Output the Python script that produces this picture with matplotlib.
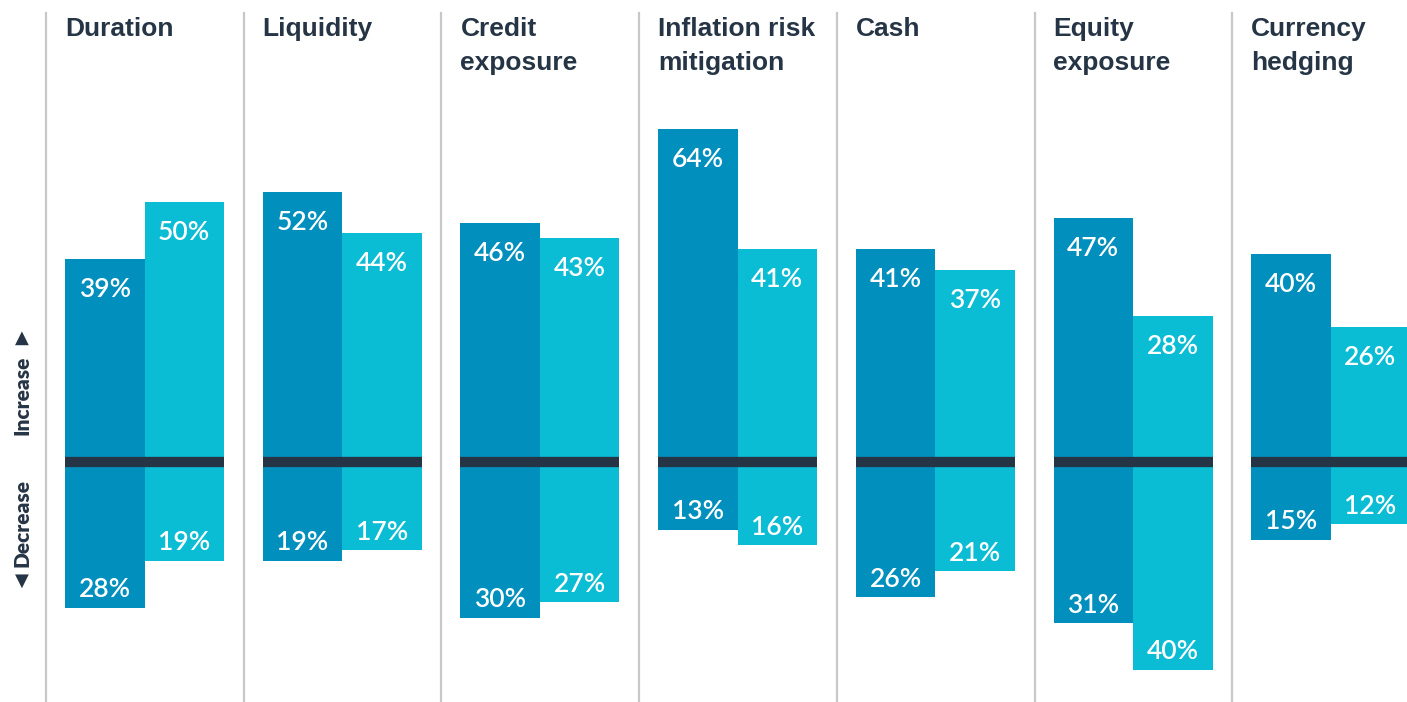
import numpy as np
import matplotlib
matplotlib.use("Agg")
import matplotlib.pyplot as plt
import matplotlib.transforms as mtransforms

# data
categories = ["Duration", "Liquidity", "Credit\nexposure", "Inflation risk\nmitigation",
              "Cash", "Equity\nexposure", "Currency\nhedging"]
increase_a = [39, 52, 46, 64, 41, 47, 40]
increase_b = [50, 44, 43, 41, 37, 28, 26]
decrease_a = [28, 19, 30, 13, 26, 31, 15]
decrease_b = [19, 17, 27, 16, 21, 40, 12]

DARK = "#018fbe"
LIGHT = "#0abcd4"
NAVY = "#263545"
GRID = "#c8c8c8"

plt.rcParams["font.family"] = ["Lato", "DejaVu Sans"]
TITLE_FONT = ["Liberation Sans", "DejaVu Sans"]

W, H = 1407, 702
fig = plt.figure(figsize=(W / 100, H / 100), dpi=100)
ax = fig.add_axes([0, 0, 1, 1])

# pixel geometry of the reference, converted to data units
panel_px = 197.7
sep0_px = 46
zero_px = 462
px_per_pct = 5.2
ax.set_xlim(-sep0_px / panel_px, (W - sep0_px) / panel_px)
ax.set_ylim(-(H - zero_px) / px_per_pct, zero_px / px_per_pct)
ax.axis("off")

n = len(categories)
x = np.arange(n)
left_off = 19 / panel_px
bw = 79.5 / panel_px

ax.bar(x + left_off, increase_a, width=bw, align="edge", color=DARK, zorder=2)
ax.bar(x + left_off + bw, increase_b, width=bw, align="edge", color=LIGHT, zorder=2)
ax.bar(x + left_off, [-v for v in decrease_a], width=bw, align="edge", color=DARK, zorder=2)
ax.bar(x + left_off + bw, [-v for v in decrease_b], width=bw, align="edge", color=LIGHT, zorder=2)

# zero line
ax.hlines(np.zeros(n), x + left_off, x + left_off + 2 * bw, color=NAVY, lw=7.4, zorder=3)

# separators
for i in range(n):
    ax.axvline(i, ymin=0, ymax=1 - 13 / H, color=GRID, lw=1.6, zorder=1)

lab = dict(color="white", fontsize=19, fontweight="semibold", ha="center", va="center", zorder=4)
for i in range(n):
    for off, vi, vd in [(0, increase_a[i], decrease_a[i]), (bw, increase_b[i], decrease_b[i])]:
        cx = i + left_off + off + bw / 2
        ax.annotate(f"{vi}%", (cx, vi), xytext=(0, -22), textcoords="offset points", **lab)
        ax.annotate(f"{vd}%", (cx, -vd), xytext=(0, 13), textcoords="offset points", **lab)

# titles
trans = mtransforms.blended_transform_factory(ax.transData, ax.transAxes)
for i, name in enumerate(categories):
    ax.text(i + left_off, 1 - 17 / H, name, transform=trans, ha="left", va="top",
            fontsize=19, fontweight="bold", color=NAVY, linespacing=1.55, family=TITLE_FONT)

# side labels
side = dict(rotation=90, ha="center", va="center", fontsize=15, fontweight="heavy", color=NAVY)
fig.text(22 / W, 1 - 395 / H, "Increase", **side)
fig.text(22 / W, 1 - 523 / H, "Decrease", **side)
fig.text(22 / W, 1 - 338 / H, "\u25B2", ha="center", va="center", fontsize=13,
         color=NAVY, family="DejaVu Sans")
fig.text(22 / W, 1 - 581 / H, "\u25BC", ha="center", va="center", fontsize=13,
         color=NAVY, family="DejaVu Sans")

fig.savefig("out.png", dpi=100)
